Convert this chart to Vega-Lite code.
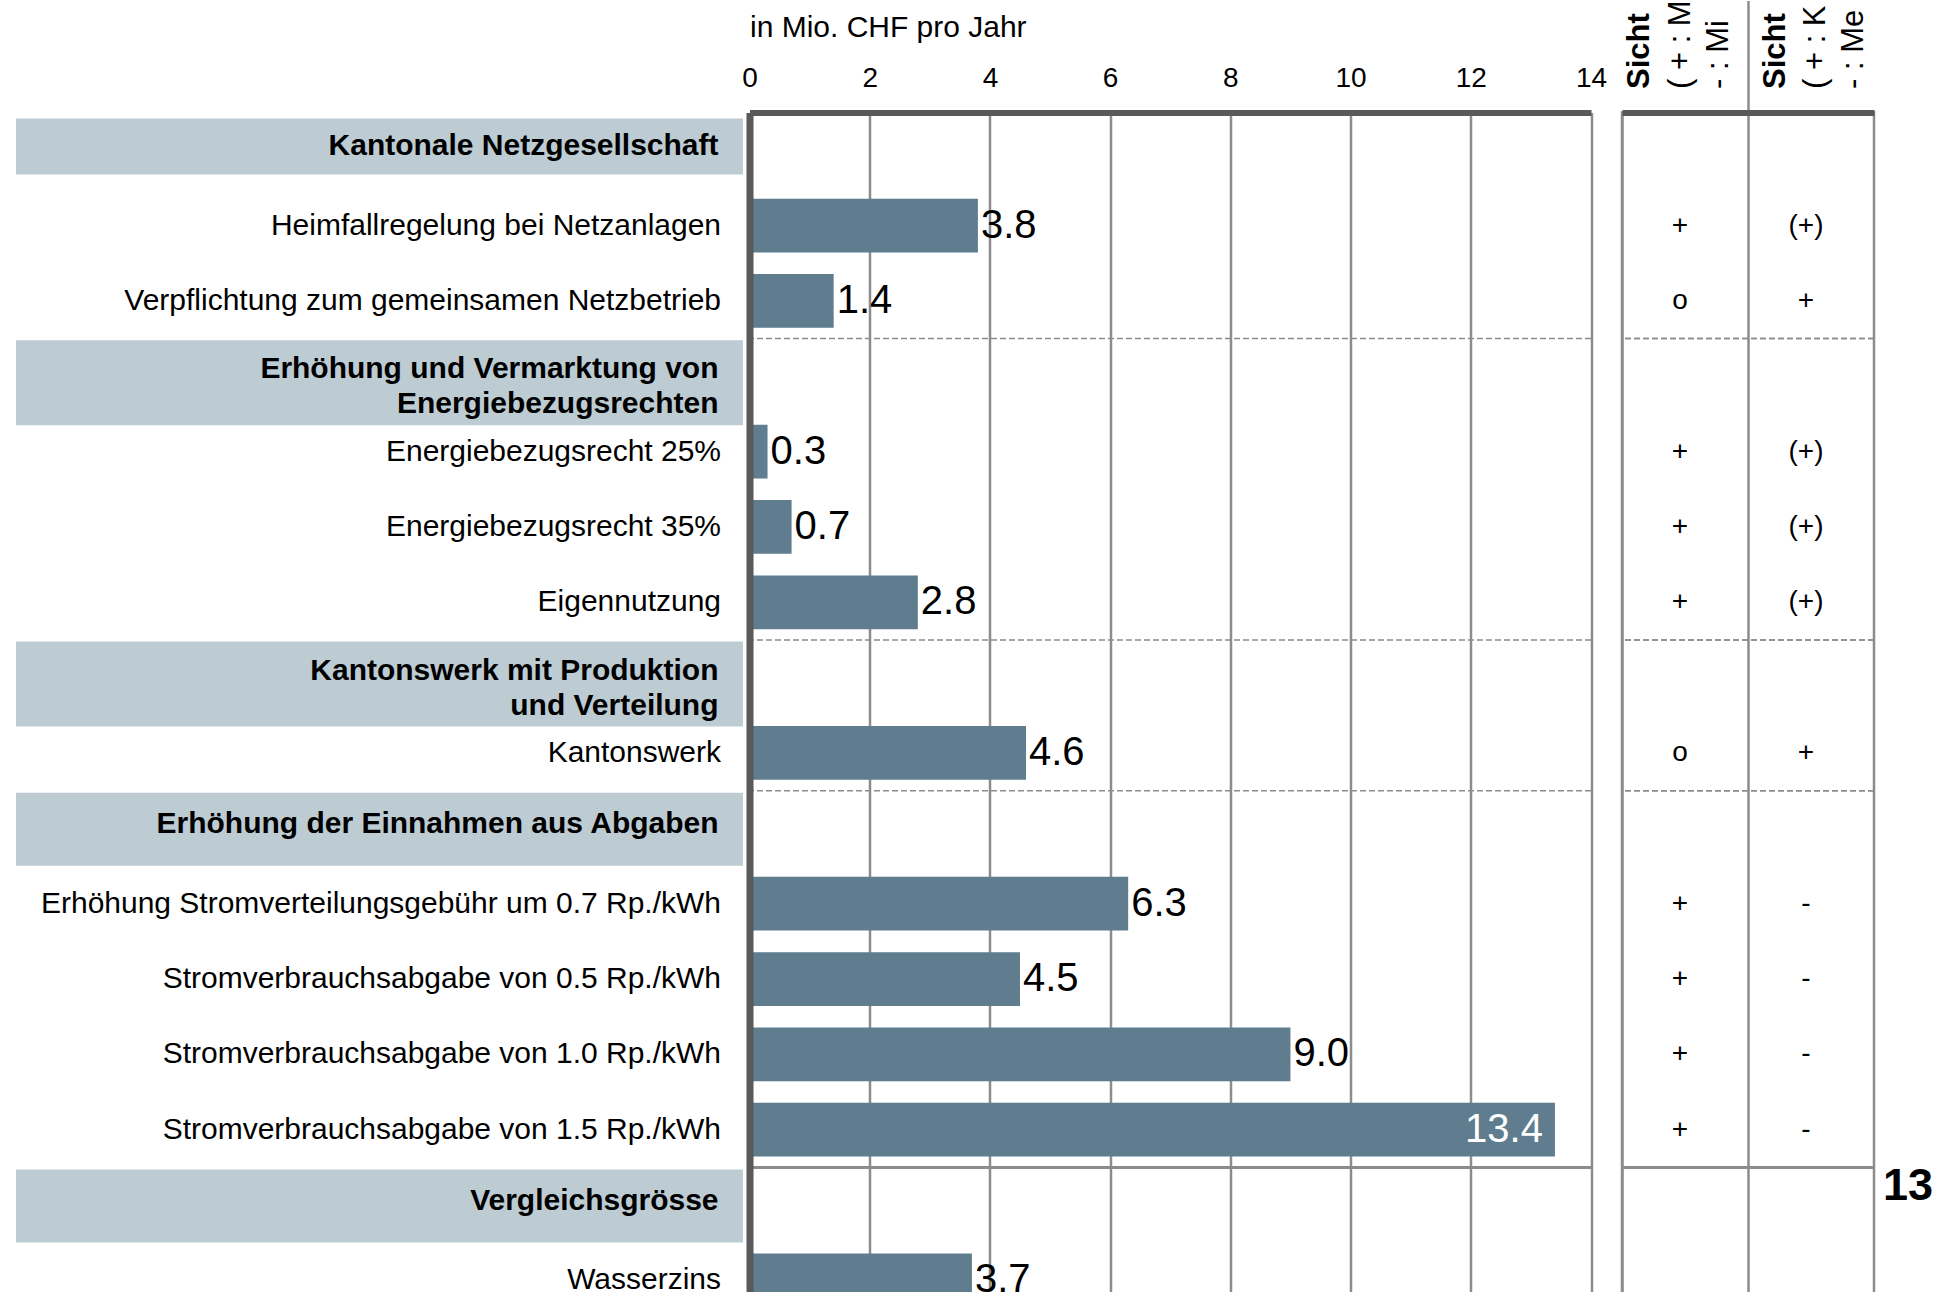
{
  "$schema": "https://vega.github.io/schema/vega-lite/v6.json",
  "background": "white",
  "padding": {"left": 16, "top": -2.5, "right": 0, "bottom": 0},
  "config": {
    "font": "Liberation Sans",
    "view": {"stroke": null},
    "scale": {"bandPaddingInner": 0, "bandPaddingOuter": 0},
    "text": {"font": "Liberation Sans", "color": "black"},
    "axis": {"labelFont": "Liberation Sans", "titleFont": "Liberation Sans"}
  },
  "datasets": {
    "rows": [
      {"label": "Kantonale Netzgesellschaft", "kind": "header", "value": null, "s1": null, "s2": null},
      {"label": "Heimfallregelung bei Netzanlagen", "kind": "item", "value": 3.8, "s1": "+", "s2": "(+)"},
      {"label": "Verpflichtung zum gemeinsamen Netzbetrieb", "kind": "item", "value": 1.4, "s1": "o", "s2": "+"},
      {"label": "Erhöhung und Vermarktung von|Energiebezugsrechten", "kind": "header", "value": null, "s1": null, "s2": null},
      {"label": "Energiebezugsrecht 25%", "kind": "item", "value": 0.3, "s1": "+", "s2": "(+)"},
      {"label": "Energiebezugsrecht 35%", "kind": "item", "value": 0.7, "s1": "+", "s2": "(+)"},
      {"label": "Eigennutzung", "kind": "item", "value": 2.8, "s1": "+", "s2": "(+)"},
      {"label": "Kantonswerk mit Produktion|und Verteilung", "kind": "header", "value": null, "s1": null, "s2": null},
      {"label": "Kantonswerk", "kind": "item", "value": 4.6, "s1": "o", "s2": "+"},
      {"label": "Erhöhung der Einnahmen aus Abgaben", "kind": "header", "value": null, "s1": null, "s2": null},
      {"label": "Erhöhung Stromverteilungsgebühr um 0.7 Rp./kWh", "kind": "item", "value": 6.3, "s1": "+", "s2": "-"},
      {"label": "Stromverbrauchsabgabe von 0.5 Rp./kWh", "kind": "item", "value": 4.5, "s1": "+", "s2": "-"},
      {"label": "Stromverbrauchsabgabe von 1.0 Rp./kWh", "kind": "item", "value": 9.0, "s1": "+", "s2": "-"},
      {"label": "Stromverbrauchsabgabe von 1.5 Rp./kWh", "kind": "item", "value": 13.4, "s1": "+", "s2": "-"},
      {"label": "Vergleichsgrösse", "kind": "header", "value": null, "s1": null, "s2": null},
      {"label": "Wasserzins", "kind": "item", "value": 3.7, "s1": null, "s2": null}
    ]
  },
  "data": {"name": "rows"},
  "spacing": 30.5,
  "bounds": "flush",
  "resolve": {"scale": {"y": "shared"}, "axis": {"y": "independent"}},
  "hconcat": [
    {
      "width": 702.5,
      "height": 1205.6,
      "encoding": {
        "y": {"field": "label", "type": "nominal", "sort": null, "axis": null,
              "scale": {"type": "band", "domain": ["Kantonale Netzgesellschaft", "Heimfallregelung bei Netzanlagen", "Verpflichtung zum gemeinsamen Netzbetrieb", "Erhöhung und Vermarktung von|Energiebezugsrechten", "Energiebezugsrecht 25%", "Energiebezugsrecht 35%", "Eigennutzung", "Kantonswerk mit Produktion|und Verteilung", "Kantonswerk", "Erhöhung der Einnahmen aus Abgaben", "Erhöhung Stromverteilungsgebühr um 0.7 Rp./kWh", "Stromverbrauchsabgabe von 0.5 Rp./kWh", "Stromverbrauchsabgabe von 1.0 Rp./kWh", "Stromverbrauchsabgabe von 1.5 Rp./kWh", "Vergleichsgrösse", "Wasserzins"]}}
      },
      "layer": [
        {
          "transform": [{"filter": "datum.label == 'Kantonale Netzgesellschaft'"}],
          "mark": {"type": "bar", "color": "#bdcbd3", "height": {"band": 0.745}, "yOffset": -3.7, "x2Offset": 24.5},
          "encoding": {
            "x": {"datum": 0, "type": "quantitative", "scale": {"domain": [0, 1]}, "axis": null},
            "x2": {"datum": 1}
          }
        },
        {
          "transform": [{"filter": "datum.kind == 'header' && indexof(datum.label, '|') >= 0"}],
          "mark": {"type": "bar", "color": "#bdcbd3", "height": {"band": 1.128}, "yOffset": 6.5, "x2Offset": 24.5},
          "encoding": {
            "x": {"datum": 0, "type": "quantitative", "scale": {"domain": [0, 1]}, "axis": null},
            "x2": {"datum": 1}
          }
        },
        {
          "transform": [{"filter": "datum.kind == 'header' && indexof(datum.label, '|') < 0 && datum.label != 'Kantonale Netzgesellschaft'"}],
          "mark": {"type": "bar", "color": "#bdcbd3", "height": {"band": 0.97}, "yOffset": 1, "x2Offset": 24.5},
          "encoding": {
            "x": {"datum": 0, "type": "quantitative", "scale": {"domain": [0, 1]}, "axis": null},
            "x2": {"datum": 1}
          }
        },
        {
          "transform": [{"filter": "datum.kind == 'item'"}],
          "mark": {"type": "text", "align": "right", "baseline": "middle", "fontSize": 30, "dx": 2.5, "color": "black"},
          "encoding": {
            "x": {"datum": 1, "type": "quantitative", "scale": {"domain": [0, 1]}, "axis": null},
            "text": {"field": "label"}
          }
        },
        {
          "transform": [{"filter": "datum.kind == 'header' && indexof(datum.label, '|') < 0"}],
          "mark": {"type": "text", "align": "right", "baseline": "middle", "fontSize": 30, "fontWeight": "bold", "dy": -4, "color": "black"},
          "encoding": {
            "x": {"datum": 1, "type": "quantitative", "scale": {"domain": [0, 1]}, "axis": null},
            "text": {"field": "label"}
          }
        },
        {
          "transform": [{"filter": "datum.kind == 'header' && indexof(datum.label, '|') >= 0"}],
          "mark": {"type": "text", "align": "right", "baseline": "middle", "fontSize": 30, "fontWeight": "bold", "dy": -7, "lineBreak": "|", "lineHeight": 35, "color": "black"},
          "encoding": {
            "x": {"datum": 1, "type": "quantitative", "scale": {"domain": [0, 1]}, "axis": null},
            "text": {"field": "label"}
          }
        }
      ]
    },
    {
      "width": 841.5,
      "height": 1205.6,
      "layer": [
        {
          "transform": [{"filter": "datum.value != null"}],
          "mark": {"type": "bar", "color": "#5f7d8f", "height": {"band": 0.713}},
          "encoding": {
            "y": {"field": "label", "type": "nominal", "sort": null,
                  "scale": {"type": "band", "domain": ["Kantonale Netzgesellschaft", "Heimfallregelung bei Netzanlagen", "Verpflichtung zum gemeinsamen Netzbetrieb", "Erhöhung und Vermarktung von|Energiebezugsrechten", "Energiebezugsrecht 25%", "Energiebezugsrecht 35%", "Eigennutzung", "Kantonswerk mit Produktion|und Verteilung", "Kantonswerk", "Erhöhung der Einnahmen aus Abgaben", "Erhöhung Stromverteilungsgebühr um 0.7 Rp./kWh", "Stromverbrauchsabgabe von 0.5 Rp./kWh", "Stromverbrauchsabgabe von 1.0 Rp./kWh", "Stromverbrauchsabgabe von 1.5 Rp./kWh", "Vergleichsgrösse", "Wasserzins"]},
                  "axis": {"labels": false, "ticks": false, "title": null, "grid": false, "domain": true, "domainColor": "#595959", "domainWidth": 7, "zindex": 1}},
            "x": {"field": "value", "type": "quantitative", "scale": {"domain": [0, 14], "nice": false},
                  "axis": {"orient": "top", "values": [0, 2, 4, 6, 8, 10, 12, 14], "title": "in Mio. CHF pro Jahr",
                           "titleFontSize": 30, "titleFontWeight": "normal", "titleColor": "black",
                           "titleAnchor": "start", "titleAlign": "left", "titleBaseline": "alphabetic", "titleX": 0, "titleY": -75.6,
                           "labelFontSize": 28, "labelColor": "black", "labelPadding": 20, "labelFlush": false, "labelOverlap": false,
                           "ticks": false, "grid": true, "gridColor": "#8c8c8c", "gridWidth": 2.5,
                           "domain": true, "domainColor": "#595959", "domainWidth": 6, "zindex": 0}}
          }
        },
        {
          "transform": [{"filter": "datum.value != null && datum.value < 13"}],
          "mark": {"type": "text", "align": "left", "baseline": "middle", "fontSize": 40, "dx": 3, "color": "black"},
          "encoding": {
            "y": {"field": "label", "type": "nominal", "sort": null,
                  "scale": {"type": "band", "domain": ["Kantonale Netzgesellschaft", "Heimfallregelung bei Netzanlagen", "Verpflichtung zum gemeinsamen Netzbetrieb", "Erhöhung und Vermarktung von|Energiebezugsrechten", "Energiebezugsrecht 25%", "Energiebezugsrecht 35%", "Eigennutzung", "Kantonswerk mit Produktion|und Verteilung", "Kantonswerk", "Erhöhung der Einnahmen aus Abgaben", "Erhöhung Stromverteilungsgebühr um 0.7 Rp./kWh", "Stromverbrauchsabgabe von 0.5 Rp./kWh", "Stromverbrauchsabgabe von 1.0 Rp./kWh", "Stromverbrauchsabgabe von 1.5 Rp./kWh", "Vergleichsgrösse", "Wasserzins"]},
                  "axis": {"labels": false, "ticks": false, "title": null, "grid": false, "domain": true, "domainColor": "#595959", "domainWidth": 7, "zindex": 1}},
            "x": {"field": "value", "type": "quantitative", "scale": {"domain": [0, 14], "nice": false},
                  "axis": {"orient": "top", "values": [0, 2, 4, 6, 8, 10, 12, 14], "title": "in Mio. CHF pro Jahr",
                           "titleFontSize": 30, "titleFontWeight": "normal", "titleColor": "black",
                           "titleAnchor": "start", "titleAlign": "left", "titleBaseline": "alphabetic", "titleX": 0, "titleY": -75.6,
                           "labelFontSize": 28, "labelColor": "black", "labelPadding": 20, "labelFlush": false, "labelOverlap": false,
                           "ticks": false, "grid": true, "gridColor": "#8c8c8c", "gridWidth": 2.5,
                           "domain": true, "domainColor": "#595959", "domainWidth": 6, "zindex": 0}},
            "text": {"field": "value", "format": ".1f"}
          }
        },
        {
          "transform": [{"filter": "datum.value != null && datum.value >= 13"}],
          "mark": {"type": "text", "align": "right", "baseline": "middle", "fontSize": 40, "dx": -12, "color": "white"},
          "encoding": {
            "y": {"field": "label", "type": "nominal", "sort": null,
                  "scale": {"type": "band", "domain": ["Kantonale Netzgesellschaft", "Heimfallregelung bei Netzanlagen", "Verpflichtung zum gemeinsamen Netzbetrieb", "Erhöhung und Vermarktung von|Energiebezugsrechten", "Energiebezugsrecht 25%", "Energiebezugsrecht 35%", "Eigennutzung", "Kantonswerk mit Produktion|und Verteilung", "Kantonswerk", "Erhöhung der Einnahmen aus Abgaben", "Erhöhung Stromverteilungsgebühr um 0.7 Rp./kWh", "Stromverbrauchsabgabe von 0.5 Rp./kWh", "Stromverbrauchsabgabe von 1.0 Rp./kWh", "Stromverbrauchsabgabe von 1.5 Rp./kWh", "Vergleichsgrösse", "Wasserzins"]},
                  "axis": {"labels": false, "ticks": false, "title": null, "grid": false, "domain": true, "domainColor": "#595959", "domainWidth": 7, "zindex": 1}},
            "x": {"field": "value", "type": "quantitative", "scale": {"domain": [0, 14], "nice": false},
                  "axis": {"orient": "top", "values": [0, 2, 4, 6, 8, 10, 12, 14], "title": "in Mio. CHF pro Jahr",
                           "titleFontSize": 30, "titleFontWeight": "normal", "titleColor": "black",
                           "titleAnchor": "start", "titleAlign": "left", "titleBaseline": "alphabetic", "titleX": 0, "titleY": -75.6,
                           "labelFontSize": 28, "labelColor": "black", "labelPadding": 20, "labelFlush": false, "labelOverlap": false,
                           "ticks": false, "grid": true, "gridColor": "#8c8c8c", "gridWidth": 2.5,
                           "domain": true, "domainColor": "#595959", "domainWidth": 6, "zindex": 0}},
            "text": {"field": "value", "format": ".1f"}
          }
        },
        {
          "transform": [{"filter": {"field": "label", "oneOf": ["Erhöhung und Vermarktung von|Energiebezugsrechten", "Kantonswerk mit Produktion|und Verteilung", "Erhöhung der Einnahmen aus Abgaben"]}}],
          "mark": {"type": "rule", "color": "#8c8c8c", "strokeWidth": 1.5, "strokeDash": [6, 3]},
          "encoding": {
            "y": {"field": "label", "type": "nominal", "sort": null, "bandPosition": 0,
                  "scale": {"type": "band", "domain": ["Kantonale Netzgesellschaft", "Heimfallregelung bei Netzanlagen", "Verpflichtung zum gemeinsamen Netzbetrieb", "Erhöhung und Vermarktung von|Energiebezugsrechten", "Energiebezugsrecht 25%", "Energiebezugsrecht 35%", "Eigennutzung", "Kantonswerk mit Produktion|und Verteilung", "Kantonswerk", "Erhöhung der Einnahmen aus Abgaben", "Erhöhung Stromverteilungsgebühr um 0.7 Rp./kWh", "Stromverbrauchsabgabe von 0.5 Rp./kWh", "Stromverbrauchsabgabe von 1.0 Rp./kWh", "Stromverbrauchsabgabe von 1.5 Rp./kWh", "Vergleichsgrösse", "Wasserzins"]},
                  "axis": {"labels": false, "ticks": false, "title": null, "grid": false, "domain": true, "domainColor": "#595959", "domainWidth": 7, "zindex": 1}}
          }
        },
        {
          "transform": [{"filter": "datum.label == 'Vergleichsgrösse'"}],
          "mark": {"type": "rule", "color": "#8c8c8c", "strokeWidth": 3},
          "encoding": {
            "y": {"field": "label", "type": "nominal", "sort": null, "bandPosition": 0,
                  "scale": {"type": "band", "domain": ["Kantonale Netzgesellschaft", "Heimfallregelung bei Netzanlagen", "Verpflichtung zum gemeinsamen Netzbetrieb", "Erhöhung und Vermarktung von|Energiebezugsrechten", "Energiebezugsrecht 25%", "Energiebezugsrecht 35%", "Eigennutzung", "Kantonswerk mit Produktion|und Verteilung", "Kantonswerk", "Erhöhung der Einnahmen aus Abgaben", "Erhöhung Stromverteilungsgebühr um 0.7 Rp./kWh", "Stromverbrauchsabgabe von 0.5 Rp./kWh", "Stromverbrauchsabgabe von 1.0 Rp./kWh", "Stromverbrauchsabgabe von 1.5 Rp./kWh", "Vergleichsgrösse", "Wasserzins"]},
                  "axis": {"labels": false, "ticks": false, "title": null, "grid": false, "domain": true, "domainColor": "#595959", "domainWidth": 7, "zindex": 1}}
          }
        }
      ]
    },
    {
      "width": 252,
      "height": 1205.6,
      "view": {"stroke": "#8c8c8c", "strokeWidth": 2.5},
      "transform": [{"fold": ["s1", "s2"], "as": ["col", "sym"]}],
      "encoding": {
        "y": {"field": "label", "type": "nominal", "sort": null, "axis": null,
              "scale": {"type": "band", "domain": ["Kantonale Netzgesellschaft", "Heimfallregelung bei Netzanlagen", "Verpflichtung zum gemeinsamen Netzbetrieb", "Erhöhung und Vermarktung von|Energiebezugsrechten", "Energiebezugsrecht 25%", "Energiebezugsrecht 35%", "Eigennutzung", "Kantonswerk mit Produktion|und Verteilung", "Kantonswerk", "Erhöhung der Einnahmen aus Abgaben", "Erhöhung Stromverteilungsgebühr um 0.7 Rp./kWh", "Stromverbrauchsabgabe von 0.5 Rp./kWh", "Stromverbrauchsabgabe von 1.0 Rp./kWh", "Stromverbrauchsabgabe von 1.5 Rp./kWh", "Vergleichsgrösse", "Wasserzins"]}}
      },
      "layer": [
        {
          "transform": [{"filter": {"field": "label", "oneOf": ["Erhöhung und Vermarktung von|Energiebezugsrechten", "Kantonswerk mit Produktion|und Verteilung", "Erhöhung der Einnahmen aus Abgaben"]}}],
          "mark": {"type": "rule", "color": "#8c8c8c", "strokeWidth": 1.5, "strokeDash": [6, 3]},
          "encoding": {
            "y": {"field": "label", "type": "nominal", "sort": null, "bandPosition": 0, "axis": null,
                  "scale": {"type": "band", "domain": ["Kantonale Netzgesellschaft", "Heimfallregelung bei Netzanlagen", "Verpflichtung zum gemeinsamen Netzbetrieb", "Erhöhung und Vermarktung von|Energiebezugsrechten", "Energiebezugsrecht 25%", "Energiebezugsrecht 35%", "Eigennutzung", "Kantonswerk mit Produktion|und Verteilung", "Kantonswerk", "Erhöhung der Einnahmen aus Abgaben", "Erhöhung Stromverteilungsgebühr um 0.7 Rp./kWh", "Stromverbrauchsabgabe von 0.5 Rp./kWh", "Stromverbrauchsabgabe von 1.0 Rp./kWh", "Stromverbrauchsabgabe von 1.5 Rp./kWh", "Vergleichsgrösse", "Wasserzins"]}}
          }
        },
        {
          "transform": [{"filter": "datum.label == 'Vergleichsgrösse'"}],
          "mark": {"type": "rule", "color": "#8c8c8c", "strokeWidth": 3},
          "encoding": {
            "y": {"field": "label", "type": "nominal", "sort": null, "bandPosition": 0, "axis": null,
                  "scale": {"type": "band", "domain": ["Kantonale Netzgesellschaft", "Heimfallregelung bei Netzanlagen", "Verpflichtung zum gemeinsamen Netzbetrieb", "Erhöhung und Vermarktung von|Energiebezugsrechten", "Energiebezugsrecht 25%", "Energiebezugsrecht 35%", "Eigennutzung", "Kantonswerk mit Produktion|und Verteilung", "Kantonswerk", "Erhöhung der Einnahmen aus Abgaben", "Erhöhung Stromverteilungsgebühr um 0.7 Rp./kWh", "Stromverbrauchsabgabe von 0.5 Rp./kWh", "Stromverbrauchsabgabe von 1.0 Rp./kWh", "Stromverbrauchsabgabe von 1.5 Rp./kWh", "Vergleichsgrösse", "Wasserzins"]}}
          }
        },
        {
          "transform": [{"filter": "datum.col == 's1' && datum.sym != null"}],
          "mark": {"type": "text", "fontSize": 28, "baseline": "middle", "dx": -5, "color": "black"},
          "encoding": {
            "x": {"field": "col", "type": "nominal", "scale": {"type": "band", "domain": ["s1", "s2"]},
                  "axis": {"orient": "top", "bandPosition": 0, "title": null, "labelExpr": "'Sicht'",
                           "labelAngle": 270, "labelAlign": "left", "labelBaseline": "middle",
                           "labelFontSize": 31, "labelFontWeight": "bold", "labelColor": "black",
                           "labelOffset": {"condition": {"test": "datum.value == 's1'", "value": -44.5}, "value": -34.5},
                           "labelPadding": -88, "labelBound": false, "labelOverlap": false,
                           "ticks": true, "tickSize": 112, "tickWidth": 2.5,
                           "tickColor": {"condition": {"test": "datum.value == 's1'", "value": "transparent"}, "value": "#8c8c8c"},
                           "grid": true, "gridColor": "#8c8c8c", "gridWidth": 2.5,
                           "domain": true, "domainColor": "#595959", "domainWidth": 6, "zindex": 0}},
            "text": {"field": "sym"}
          }
        },
        {
          "transform": [{"filter": "datum.col == 's2' && datum.sym != null"}],
          "mark": {"type": "text", "fontSize": 28, "baseline": "middle", "dx": -5, "color": "black"},
          "encoding": {
            "x": {"field": "col", "type": "nominal", "scale": {"type": "band", "domain": ["s1", "s2"]},
                  "axis": {"orient": "top", "title": null,
                           "labelExpr": "datum.value == 's1' ? ['( + : M', '\u00a0\u00a0- : Mi'] : ['( + : K', '\u00a0\u00a0- : Me']",
                           "labelAngle": 270, "labelAlign": "left", "labelBaseline": "middle",
                           "labelFontSize": 31, "labelLineHeight": 38, "labelColor": "black",
                           "labelOffset": {"condition": {"test": "datum.value == 's1'", "value": -3.5}, "value": 5.5},
                           "labelPadding": 24, "labelBound": false, "labelOverlap": false,
                           "ticks": false, "grid": false, "domain": false}},
            "text": {"field": "sym"}
          }
        },
        {
          "transform": [{"filter": "datum.label == 'Vergleichsgrösse' && datum.col == 's2'"}],
          "mark": {"type": "text", "text": "13", "fontSize": 45, "fontWeight": "bold", "align": "left", "baseline": "middle", "dx": 9, "dy": -19, "color": "black"},
          "encoding": {
            "x": {"field": "col", "type": "nominal", "bandPosition": 1, "axis": null, "scale": {"type": "band", "domain": ["s1", "s2"]}}
          }
        }
      ],
      "resolve": {"axis": {"x": "independent"}}
    }
  ]
}
